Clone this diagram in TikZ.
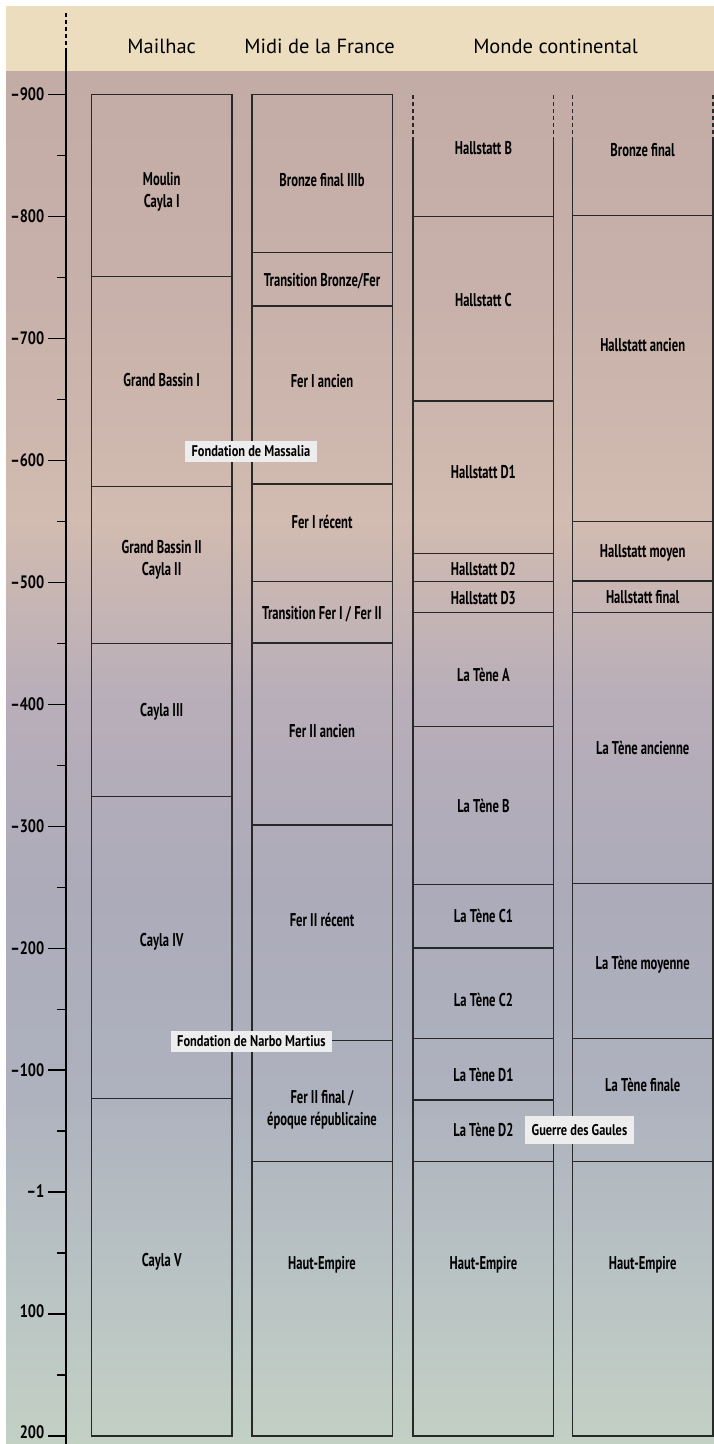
\documentclass[tikz,border=0pt]{standalone}
\usepackage{fontspec}
\usepackage{tikz}
\newfontfamily\headfont{PT Sans}
\newfontfamily\condfont[FakeStretch=0.68]{PT Sans}
\newfontfamily\evfont[FakeStretch=0.8]{PT Sans}
\definecolor{band}{RGB}{236,221,190}
\definecolor{bgA}{RGB}{195,172,166}
\definecolor{bgB}{RGB}{199,177,170}
\definecolor{bgC}{RGB}{210,187,176}
\definecolor{bgD}{RGB}{184,174,185}
\definecolor{bgE}{RGB}{172,171,186}
\definecolor{bgF}{RGB}{174,178,190}
\definecolor{bgG}{RGB}{186,197,196}
\definecolor{bgH}{RGB}{195,208,196}
\definecolor{evfill}{RGB}{237,237,237}
\definecolor{rule}{RGB}{40,40,40}
\tikzstyle{period}=[font=\condfont\bfseries\fontsize{18.5}{22}\selectfont, align=center, inner sep=0pt]
\tikzstyle{yearlab}=[font=\evfont\bfseries\fontsize{18}{20}\selectfont, anchor=east, inner sep=0pt]
\tikzstyle{colhead}=[font=\headfont\fontsize{20.5}{24}\selectfont, inner sep=0pt]
\tikzset{colbox/.style={draw=rule, line width=1.1pt},
  event/.style={fill=evfill, font=\evfont\bfseries\fontsize{15.5}{18}\selectfont,
    inner xsep=6.5pt, inner ysep=0pt, minimum height=20.7pt},
  cut/.style={draw=rule, line width=1.1pt, dash pattern=on 4pt off 3pt}}

\begin{document}
\begin{tikzpicture}[x=1pt, y=-1pt]
  \useasboundingbox (0,0) rectangle (714,1444);
  \fill[white] (0,0) rectangle (714,1444);
  \fill[band] (6,6) rectangle (714,71);
  \shade[top color=bgA, bottom color=bgB] (6,71) rectangle (714,301);
  \shade[top color=bgB, bottom color=bgC] (6,300) rectangle (714,521);
  \shade[top color=bgC, bottom color=bgD] (6,520) rectangle (714,701);
  \shade[top color=bgD, bottom color=bgE] (6,700) rectangle (714,901);
  \shade[top color=bgE, bottom color=bgF] (6,900) rectangle (714,1101);
  \shade[top color=bgF, bottom color=bgG] (6,1100) rectangle (714,1301);
  \shade[top color=bgG, bottom color=bgH] (6,1300) rectangle (714,1444);

  \node[colhead] (hMailhac) at (161.7,46) {Mailhac};
  \node[colhead] (hMidi) at (319.5,46) {Midi de la France};
  \node[colhead] (hMonde) at (555.6,46) {Monde continental};

  \draw[line width=1.2pt, dash pattern=on 4pt off 3pt] (66,13) -- (66,48);
  \draw[line width=1.2pt] (66,48) -- (66,1444);
  \foreach \v/\up [count=\i from 0] in {–900/0,–800/0,–700/0,–600/0,–500/0,–400/0,–300/0,–200/0,–100/0,–1/1,100/3,200/4} {
    \draw[line width=1.2pt] (48,94.3+121.97*\i) -- (66,94.3+121.97*\i);
    \node[yearlab] (t\i) at (44.5,94.3+121.97*\i-\up) {\v};
  }
  \foreach \i in {0,...,10}
    \draw[line width=1.2pt] (57,155.3+121.97*\i) -- (66,155.3+121.97*\i);

  \draw[colbox] (91.3,94.3) rectangle (232,1436);
  \foreach \y in {276.7,486.7,643.3,796.7,1098.3}
    \draw[colbox] (91.3,\y) -- (232,\y);
  \node[period] (m1) at (161.7,191.7) {Moulin\\Cayla I};
  \node[period] (m2) at (161.7,380) {Grand Bassin I};
  \node[period] (m3) at (161.7,560) {Grand Bassin II\\Cayla II};
  \node[period] (m4) at (161.7,712) {Cayla III};
  \node[period] (m5) at (161.7,942) {Cayla IV};
  \node[period] (m6) at (161.7,1262) {Cayla V};

  \draw[colbox] (252,94.3) rectangle (392.5,1436);
  \foreach \y in {252.7,306,484,581.7,643,825,1040.7,1161.7}
    \draw[colbox] (252,\y) -- (392.5,\y);
  \node[period] (f1) at (322,180) {Bronze final IIIb};
  \node[period] (f2) at (322,281) {Transition Bronze/Fer};
  \node[period] (f3) at (322,381) {Fer I ancien};
  \node[period] (f4) at (322,521.7) {Fer I récent};
  \node[period] (f5) at (322,614) {Transition Fer I / Fer II};
  \node[period] (f6) at (322,731) {Fer II ancien};
  \node[period] (f7) at (322,920) {Fer II récent};
  \node[period] (f8) at (322,1110) {Fer II final /\\époque républicaine};
  \node[period] (f9) at (322,1265) {Haut-Empire};

  \draw[cut] (413,95) -- (413,138);
  \draw[cut] (553.7,95) -- (553.7,138);
  \draw[colbox] (413,138) -- (413,1436) -- (553.7,1436) -- (553.7,138);
  \foreach \y in {216.7,401,553.3,581.7,612.3,726.7,884.3,948,1038.3,1100,1161.7}
    \draw[colbox] (413,\y) -- (553.7,\y);
  \node[period] (c1) at (483.4,148.3) {Hallstatt B};
  \node[period] (c2) at (483.4,300) {Hallstatt C};
  \node[period] (c3) at (483.4,471.7) {Hallstatt D1};
  \node[period] (c4) at (483.4,569) {Hallstatt D2};
  \node[period] (c5) at (483.4,598) {Hallstatt D3};
  \node[period] (c6) at (483.4,675) {La Tène A};
  \node[period] (c7) at (483.4,805.7) {La Tène B};
  \node[period] (c8) at (483.4,916) {La Tène C1};
  \node[period] (c9) at (483.4,1000) {La Tène C2};
  \node[period] (c10) at (483.4,1075) {La Tène D1};
  \node[period] (c11) at (483.4,1130) {La Tène D2};
  \node[period] (c12) at (483.4,1265) {Haut-Empire};

  \draw[cut] (572.3,95) -- (572.3,138);
  \draw[cut] (713,95) -- (713,138);
  \draw[colbox] (572.3,138) -- (572.3,1436) -- (713,1436) -- (713,138);
  \foreach \y in {215.7,521.7,581,612.7,883.3,1038.3,1161.7}
    \draw[colbox] (572.3,\y) -- (713,\y);
  \node[period] (e1) at (642.7,150) {Bronze final};
  \node[period] (e2) at (642.7,345) {Hallstatt ancien};
  \node[period] (e3) at (642.7,553) {Hallstatt moyen};
  \node[period] (e4) at (642.7,597) {Hallstatt final};
  \node[period] (e5) at (642.7,748) {La Tène ancienne};
  \node[period] (e6) at (642.7,965) {La Tène moyenne};
  \node[period] (e7) at (642.7,1085) {La Tène finale};
  \node[period] (e8) at (642.7,1265) {Haut-Empire};

  \node[event] (massalia) at (250.9,451.4) {Fondation de Massalia};
  \node[event] (narbo) at (251.4,1041.4) {Fondation de Narbo Martius};
  \node[event, minimum height=28.3pt] (gaules) at (579.5,1130) {Guerre des Gaules};
\end{tikzpicture}
\end{document}
